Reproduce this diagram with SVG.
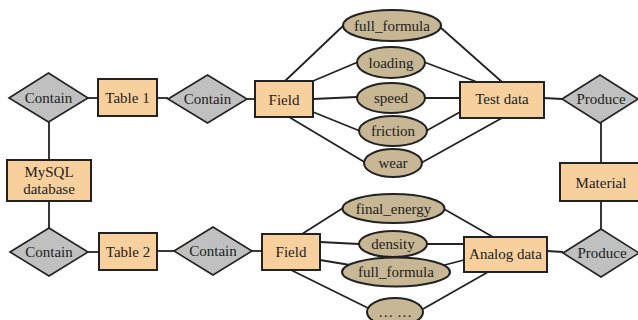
<svg xmlns="http://www.w3.org/2000/svg" width="638" height="320" viewBox="0 0 638 320">
<style>
.e{fill:#f7d09e;stroke:#222;stroke-width:2}
.a{fill:#c7b794;stroke:#222;stroke-width:2}
.r{fill:#c0c0c0;stroke:#222;stroke-width:1.6}
.c line{stroke:#222;stroke-width:1.8}
text{font-family:"Liberation Serif","Times New Roman",serif;font-size:15px;fill:#222;text-anchor:middle}
</style>
<rect width="638" height="320" fill="#fff"/>
<g class="c" id="connectors">
<line x1="49" y1="122" x2="49" y2="160"/>
<line x1="49" y1="201" x2="49" y2="228"/>
<line x1="88" y1="98" x2="98" y2="98"/>
<line x1="157" y1="98" x2="168" y2="98"/>
<line x1="247" y1="99" x2="255" y2="99"/>
<line x1="88" y1="252" x2="99" y2="252"/>
<line x1="157" y1="251" x2="174" y2="251"/>
<line x1="252" y1="251" x2="262" y2="251"/>
<line x1="285" y1="81" x2="344" y2="25"/>
<line x1="313" y1="81" x2="358" y2="62"/>
<line x1="313" y1="99" x2="357" y2="97"/>
<line x1="313" y1="112" x2="360" y2="131"/>
<line x1="289" y1="117" x2="366" y2="163"/>
<line x1="440" y1="27" x2="502" y2="82"/>
<line x1="424" y1="62" x2="477" y2="82"/>
<line x1="425" y1="98" x2="460" y2="98"/>
<line x1="426" y1="131" x2="460" y2="112"/>
<line x1="421" y1="163" x2="502" y2="118"/>
<line x1="544" y1="98" x2="562" y2="99"/>
<line x1="601" y1="123" x2="601" y2="163"/>
<line x1="601" y1="201" x2="601" y2="229"/>
<line x1="302" y1="234" x2="343" y2="208"/>
<line x1="320" y1="242" x2="359" y2="244"/>
<line x1="320" y1="260" x2="362" y2="267"/>
<line x1="291" y1="270" x2="370" y2="309"/>
<line x1="444" y1="209" x2="493" y2="237"/>
<line x1="427" y1="244" x2="464" y2="244"/>
<line x1="437" y1="267" x2="464" y2="260"/>
<line x1="423" y1="309" x2="488" y2="272"/>
<line x1="547" y1="251" x2="563" y2="252"/>
</g>
<g id="contain1"><polygon class="r" points="9,98 48.5,73 88,98 48.5,122"/><text x="48.5" y="103">Contain</text></g>
<g id="table1"><rect class="e" x="98" y="79" width="59" height="37"/><text x="127.5" y="103">Table 1</text></g>
<g id="contain2"><polygon class="r" points="168,99 207.5,75 247,99 207.5,123"/><text x="207.5" y="104">Contain</text></g>
<g id="field1"><rect class="e" x="255" y="81" width="58" height="36"/><text x="284" y="105">Field</text></g>
<g id="mysql"><rect class="e" x="7" y="160" width="84" height="41"/><text x="49" y="177">MySQL</text><text x="49" y="194">database</text></g>
<g id="contain3"><polygon class="r" points="10,252 49,228 88,252 49,276"/><text x="49" y="257">Contain</text></g>
<g id="table2"><rect class="e" x="99" y="233" width="58" height="37"/><text x="128" y="257">Table 2</text></g>
<g id="contain4"><polygon class="r" points="174,251 213,227 252,251 213,275"/><text x="213" y="256">Contain</text></g>
<g id="field2"><rect class="e" x="262" y="234" width="58" height="36"/><text x="291" y="257">Field</text></g>
<g id="full_formula1"><ellipse class="a" cx="392" cy="25.5" rx="49" ry="15.5"/><text x="392" y="30.5">full_formula</text></g>
<g id="loading"><ellipse class="a" cx="391" cy="62.5" rx="34" ry="15.5"/><text x="391" y="67.5">loading</text></g>
<g id="speed"><ellipse class="a" cx="391" cy="98" rx="34" ry="15"/><text x="391" y="103">speed</text></g>
<g id="friction"><ellipse class="a" cx="393" cy="131" rx="34" ry="15"/><text x="393" y="136">friction</text></g>
<g id="wear"><ellipse class="a" cx="393" cy="163" rx="29" ry="14"/><text x="393" y="168">wear</text></g>
<g id="testdata"><rect class="e" x="460" y="82" width="84" height="36"/><text x="502" y="104">Test data</text></g>
<g id="produce1"><polygon class="r" points="562,99 600,75 638,99 600,123"/><text x="601" y="104">Produce</text></g>
<g id="material"><rect class="e" x="560" y="163" width="82" height="38"/><text x="601" y="188">Material</text></g>
<g id="produce2"><polygon class="r" points="563,253 601,229 639,253 601,277"/><text x="602" y="258">Produce</text></g>
<g id="final_energy"><ellipse class="a" cx="393.5" cy="208.5" rx="51" ry="14.5"/><text x="393.5" y="213.5">final_energy</text></g>
<g id="density"><ellipse class="a" cx="393" cy="244" rx="34" ry="13"/><text x="393" y="249">density</text></g>
<g id="full_formula2"><ellipse class="a" cx="396" cy="272" rx="54" ry="14.5"/><text x="396" y="277">full_formula</text></g>
<g id="etc"><ellipse class="a" cx="395" cy="312" rx="28" ry="14"/><text x="395" y="317">… …</text></g>
<g id="analogdata"><rect class="e" x="464" y="237" width="83" height="35"/><text x="505.5" y="259">Analog data</text></g>
</svg>
